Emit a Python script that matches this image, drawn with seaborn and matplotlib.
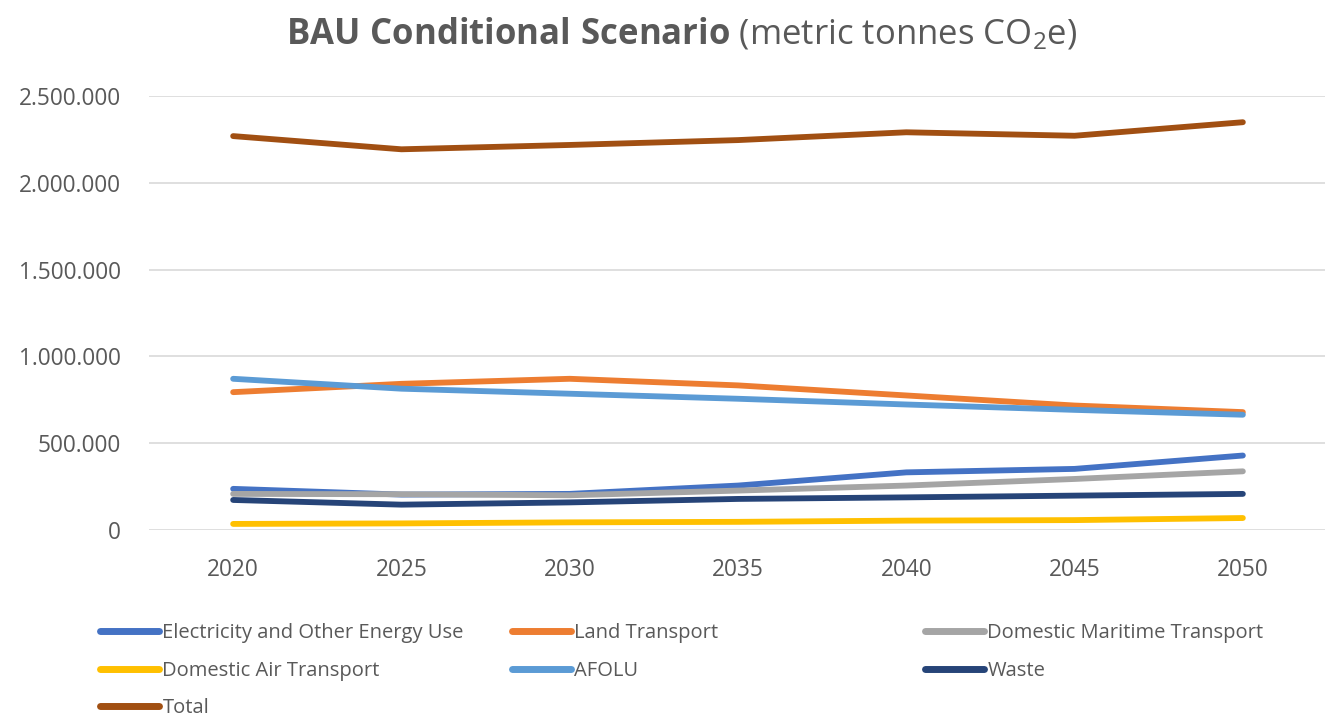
import numpy as np
import pandas as pd
import matplotlib
matplotlib.use("Agg")
import matplotlib.pyplot as plt
from matplotlib.lines import Line2D
from matplotlib.ticker import FuncFormatter
import seaborn as sns

years = [2020, 2025, 2030, 2035, 2040, 2045, 2050]

electricity = [237000, 204000, 208000, 256000, 332000, 352000, 429000]
land_transport = [794000, 842000, 871000, 833000, 775000, 717000, 679000]
maritime = [208000, 206000, 200000, 227000, 256000, 294000, 338000]
air = [35000, 38000, 44000, 47000, 54000, 57000, 69000]
afolu = [871000, 814000, 785000, 756000, 723000, 692000, 664000]
waste = [173000, 146000, 159000, 179000, 188000, 198000, 208000]
total = [2269000, 2193000, 2218000, 2246000, 2291000, 2271000, 2349000]

series_names = ["Electricity and Other Energy Use", "Land Transport",
                "Domestic Maritime Transport", "Domestic Air Transport",
                "AFOLU", "Waste", "Total"]
series_values = [electricity, land_transport, maritime, air, afolu, waste, total]
colors = ["#4472C4", "#ED7D31", "#A5A5A5", "#FFC000", "#5B9BD5", "#264478", "#A14F12"]

rows = []
for name, vals in zip(series_names, series_values):
    for y, v in zip(years, vals):
        rows.append({"year": y, "value": v, "series": name})
df = pd.DataFrame(rows)

sns.set_style("white")
plt.rcParams['font.family'] = ['Open Sans', 'DejaVu Sans']
plt.rcParams['mathtext.fontset'] = 'custom'
plt.rcParams['mathtext.rm'] = 'Open Sans'
plt.rcParams['mathtext.bf'] = 'Open Sans:bold'
plt.rcParams['mathtext.it'] = 'Open Sans:italic'

txt = "#595959"
fig = plt.figure(figsize=(13.25, 7.18), dpi=100)
ax = fig.add_axes([149/1325, 1 - 530/718, 1178/1325, 434/718])

sns.lineplot(data=df, x="year", y="value", hue="series", hue_order=series_names,
             palette=colors, linewidth=4.2, legend=False, ax=ax,
             solid_capstyle="round")

ax.set_xlim(2017.5, 2052.5)
ax.set_ylim(0, 2500000)
ax.set_xticks(years)
ax.set_yticks([0, 500000, 1000000, 1500000, 2000000, 2500000])
ax.yaxis.set_major_formatter(FuncFormatter(lambda v, p: f"{int(v):,}".replace(",", ".")))
ax.grid(axis="y", color="#D9D9D9", linewidth=1.2)
ax.set_axisbelow(True)
for s in ax.spines.values():
    s.set_visible(False)
ax.tick_params(axis="both", length=0, labelsize=16.3, colors=txt)
ax.tick_params(axis="x", pad=20)
ax.tick_params(axis="y", pad=20)
ax.set_xlabel("")
ax.set_ylabel("")

fig.text(682/1325, 1 - 34/718,
         r"$\mathbf{BAU\ Conditional\ Scenario}$ (metric tonnes CO$_2$e)",
         ha="center", va="center", fontsize=25, color=txt)

# legend: three columns placed by hand
handles = [Line2D([0], [0], color=c, linewidth=5, solid_capstyle="round") for c in colors]
col_groups = [[0, 3, 6], [1, 4], [2, 5]]
col_x = [100, 512, 925]
for xs, grp in zip(col_x, col_groups):
    leg = fig.legend([handles[i] for i in grp], [series_names[i] for i in grp],
                     loc="upper left", bbox_to_anchor=(xs/1325, 1 - 623/718),
                     frameon=False, fontsize=14.5, handlelength=2.95, handletextpad=0.15,
                     borderpad=0, borderaxespad=0, labelspacing=0.88)
    for t in leg.get_texts():
        t.set_color(txt)

fig.savefig("out.png", dpi=100)
